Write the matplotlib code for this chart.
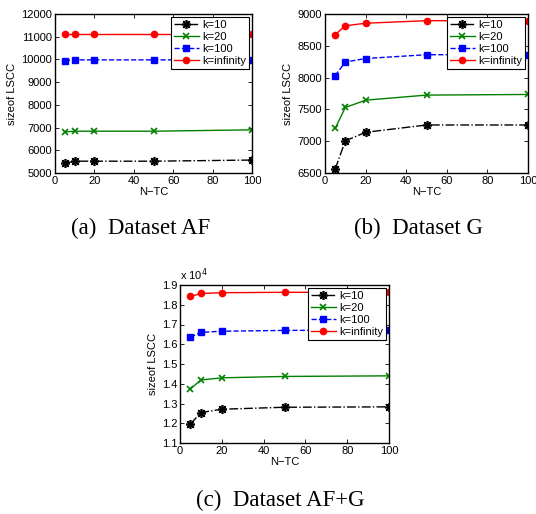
import matplotlib
matplotlib.use("Agg")
import matplotlib.pyplot as plt
from matplotlib.ticker import FuncFormatter, MultipleLocator

plt.rcParams['font.family'] = ['Liberation Sans', 'DejaVu Sans']
plt.rcParams['axes.linewidth'] = 1.0

# N-TC 取值
n_tc = [5, 10, 20, 50, 100]

# (a) Dataset AF
af_k10 = [5430, 5520, 5520, 5520, 5570]
af_k20 = [6810, 6840, 6840, 6840, 6900]
af_k100 = [9950, 9980, 9980, 9980, 9980]
af_kinf = [11130, 11130, 11130, 11130, 11130]

# (b) Dataset G
g_k10 = [6560, 7005, 7140, 7255, 7255]
g_k20 = [7200, 7530, 7645, 7725, 7735]
g_k100 = [8030, 8245, 8300, 8360, 8360]
g_kinf = [8675, 8815, 8855, 8895, 8895]

# (c) Dataset AF+G
afg_k10 = [11960, 12540, 12710, 12810, 12830]
afg_k20 = [13740, 14190, 14300, 14370, 14400]
afg_k100 = [16360, 16600, 16660, 16700, 16720]
afg_kinf = [18420, 18570, 18610, 18630, 18630]

labels = ['k=10', 'k=20', 'k=100', 'k=infinity']
captions = ['(a)  Dataset AF', '(b)  Dataset G', '(c)  Dataset AF+G']

# 星号用8条辐射线的标记
styles = [
    dict(color='black', linestyle='-.', marker=(8, 2, 0), markersize=6.5, markeredgewidth=1.2),
    dict(color='#008000', linestyle='-', marker='x', markersize=4.5, markeredgewidth=1.2),
    dict(color='blue', linestyle='--', marker='s', markersize=4),
    dict(color='red', linestyle='-', marker='o', markersize=4.5),
]


def draw_panel(ax, series, ylim, ystep, fmt=None):
    for ys, lab, st in zip(series, labels, styles):
        ax.plot(n_tc, ys, label=lab, linewidth=1.0, **st)
    ax.set_xlim(0, 100)
    ax.set_ylim(*ylim)
    ax.xaxis.set_major_locator(MultipleLocator(20))
    ax.yaxis.set_major_locator(MultipleLocator(ystep))
    if fmt is not None:
        ax.yaxis.set_major_formatter(FuncFormatter(fmt))
    ax.tick_params(direction='in', top=True, right=True, length=3,
                   width=0.6, labelsize=8, pad=2)
    ax.set_xlabel('N\u2212TC', fontsize=8, labelpad=1)
    ax.set_ylabel('sizeof LSCC', fontsize=8, labelpad=3)
    leg = ax.legend(loc='upper right', fontsize=8, frameon=True, fancybox=False,
                    handlelength=2.2, handletextpad=0.3, borderpad=0.3,
                    labelspacing=0.18, borderaxespad=0.25, framealpha=1.0)
    leg.get_frame().set_edgecolor('black')
    leg.get_frame().set_linewidth(0.8)


fig = plt.figure(figsize=(5.36, 5.14), dpi=100)
W, H = 536.0, 514.0

ax1 = fig.add_axes([55 / W, 1 - 173 / H, 197 / W, 159 / H])
draw_panel(ax1, [af_k10, af_k20, af_k100, af_kinf], (5000, 12000), 1000)

ax2 = fig.add_axes([325 / W, 1 - 173 / H, 203 / W, 159 / H])
draw_panel(ax2, [g_k10, g_k20, g_k100, g_kinf], (6500, 9000), 500)

ax3 = fig.add_axes([180 / W, 1 - 443 / H, 209 / W, 158 / H])
draw_panel(ax3, [afg_k10, afg_k20, afg_k100, afg_kinf], (11000, 19000), 1000,
           fmt=lambda v, p: f'{v / 1e4:.1f}')
ax3.text(0.0, 1.015, 'x 10$^4$', transform=ax3.transAxes, fontsize=8,
         ha='left', va='bottom')

# 子图标题
serif = ['Liberation Serif', 'DejaVu Serif']
fig.text(141 / W, 1 - 228 / H, captions[0], fontsize=16.5, family=serif,
         ha='center', va='center')
fig.text(418 / W, 1 - 228 / H, captions[1], fontsize=16.5, family=serif,
         ha='center', va='center')
fig.text(280 / W, 1 - 500 / H, captions[2], fontsize=16.5, family=serif,
         ha='center', va='center')

fig.savefig('out.png', dpi=100)
